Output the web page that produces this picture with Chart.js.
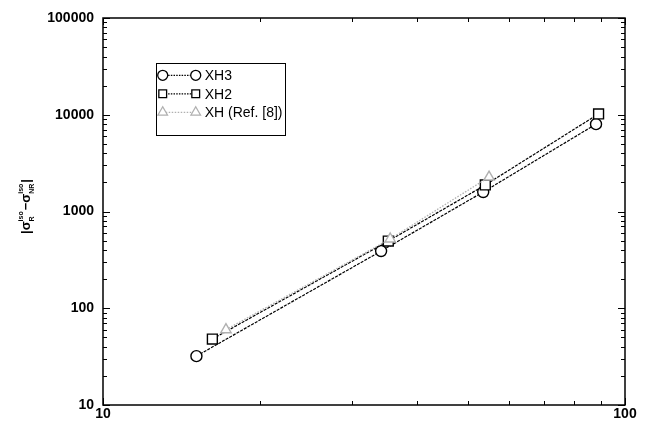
<!DOCTYPE html>
<html>
<head>
<meta charset="utf-8">
<script src="https://cdn.jsdelivr.net/npm/chart.js@4.4.1/dist/chart.umd.min.js"></script>
<style>
html,body{margin:0;padding:0;background:#fff;}
#wrap{position:relative;width:651px;height:427px;}
canvas{display:block;}
</style>
</head>
<body>
<div id="wrap"><canvas id="c" width="651" height="427"></canvas></div>
<script>
// ---- data ----
const xh3X = [15.1, 34.1, 53.5, 88.0];
const xh3Y = [32, 390, 1590, 8000];
const xh2X = [16.2, 35.2, 54.0, 89.0];
const xh2Y = [48, 495, 1880, 10200];
const xhX = [17.2, 35.5, 54.9];
const xhY = [60, 520, 2270];
const seriesNames = ['XH3', 'XH2', 'XH (Ref. [8])'];
const xTickLabels = [10, 100];
const yTickLabels = [10, 100, 1000, 10000, 100000];

const toPts = (xs, ys) => xs.map((x, i) => ({x: x, y: ys[i]}));
const FONT = 'Liberation Sans, Arial, Helvetica, sans-serif';

const seriesStyles = [
  {pointStyle: 'circle', radius: 5.5, color: '#000', dash: [3, 1.2], width: 1.2},
  {pointStyle: 'rect', radius: 7, color: '#000', dash: [3, 1.2], width: 1.2},
  {pointStyle: 'triangle', radius: 6, color: '#b0b0b0', dash: [1.5, 1.5], width: 1.3}
];
const seriesData = [toPts(xh3X, xh3Y), toPts(xh2X, xh2Y), toPts(xhX, xhY)];

const datasets = seriesNames.map((n, i) => ({
  label: n,
  data: seriesData[i],
  borderColor: seriesStyles[i].color,
  backgroundColor: '#fff',
  borderWidth: seriesStyles[i].width,
  borderDash: seriesStyles[i].dash,
  pointStyle: seriesStyles[i].pointStyle,
  pointRadius: seriesStyles[i].radius,
  pointBorderWidth: 1.4,
  pointBorderColor: seriesStyles[i].color,
  pointBackgroundColor: 'rgba(255,255,255,1)',
  tension: 0,
  order: 3 - i
}));

function decadeMinors(min, max) {
  const out = [];
  for (let d = min; d < max; d *= 10) {
    for (let k = 1; k < 10; k++) out.push({v: d * k, major: k === 1});
  }
  out.push({v: max, major: true});
  return out;
}

const framePlugin = {
  id: 'frame',
  afterDraw(chart) {
    const ctx = chart.ctx, a = chart.chartArea;
    const xs = chart.scales.x, ys = chart.scales.y;
    ctx.save();
    ctx.strokeStyle = '#000';
    ctx.lineWidth = 1.5;
    ctx.strokeRect(a.left, a.top, a.right - a.left, a.bottom - a.top);
    ctx.lineWidth = 1;
    decadeMinors(10, 100).forEach(t => {
      const p = Math.round(xs.getPixelForValue(t.v)) + 0.5;
      const L = t.major ? 7 : 4;
      ctx.beginPath();
      ctx.moveTo(p, a.bottom); ctx.lineTo(p, a.bottom - L);
      ctx.moveTo(p, a.top); ctx.lineTo(p, a.top + L);
      ctx.stroke();
    });
    decadeMinors(10, 100000).forEach(t => {
      const p = Math.round(ys.getPixelForValue(t.v)) + 0.5;
      const L = t.major ? 7 : 4;
      ctx.beginPath();
      ctx.moveTo(a.left, p); ctx.lineTo(a.left + L, p);
      ctx.moveTo(a.right, p); ctx.lineTo(a.right - L, p);
      ctx.stroke();
    });

    // legend
    const bx = a.left + 0.101 * (a.right - a.left);
    const by = a.top + 0.117 * (a.bottom - a.top);
    const bw = 129, bh = 72;
    ctx.fillStyle = '#fff';
    ctx.fillRect(bx, by, bw, bh);
    ctx.lineWidth = 1;
    ctx.strokeStyle = '#000';
    ctx.strokeRect(Math.round(bx) + 0.5, Math.round(by) + 0.5, bw, bh);
    seriesNames.forEach((n, i) => {
      const s = seriesStyles[i];
      const yy = by + 12 + i * 18.5;
      const x1 = bx + 7, x2 = bx + 40;
      ctx.save();
      ctx.strokeStyle = s.color;
      ctx.lineWidth = s.width;
      ctx.setLineDash(i === 2 ? [1.5, 1.5] : [1.5, 1.2]);
      ctx.beginPath(); ctx.moveTo(x1, yy); ctx.lineTo(x2, yy); ctx.stroke();
      ctx.restore();
      ctx.save();
      ctx.strokeStyle = s.color; ctx.fillStyle = '#fff'; ctx.lineWidth = 1.3;
      const r = i === 0 ? 5 : 5.5;
      Chart.helpers.drawPoint(ctx, {pointStyle: s.pointStyle, radius: r, borderWidth: 1.3}, x1, yy);
      Chart.helpers.drawPoint(ctx, {pointStyle: s.pointStyle, radius: r, borderWidth: 1.3}, x2, yy);
      ctx.restore();
      ctx.fillStyle = '#000';
      ctx.font = '14px ' + FONT;
      ctx.textBaseline = 'middle';
      ctx.textAlign = 'left';
      ctx.fillText(n, x2 + 9, yy + 1);
    });

    // y-axis title |σ^iso_R − σ^iso_NR|
    ctx.save();
    ctx.translate(25, (a.top + a.bottom) / 2 - 5);
    ctx.rotate(-Math.PI / 2);
    ctx.fillStyle = '#000';
    ctx.textBaseline = 'alphabetic';
    ctx.textAlign = 'left';
    const big = 'bold 13px ' + FONT, small = 'bold 7px ' + FONT;
    const parts = [
      ['|σ', big, 0], ['iso', small, -7, 'R'], ['−', big, 0], ['σ', big, 0], ['iso', small, -7, 'NR'], ['|', big, 0]
    ];
    let w = 0;
    parts.forEach(p => {
      ctx.font = p[1];
      let pw = ctx.measureText(p[0]).width;
      if (p[3]) { pw = Math.max(pw, ctx.measureText(p[3]).width) + 1; }
      w += pw;
    });
    let cx = -w / 2;
    parts.forEach(p => {
      ctx.font = p[1];
      ctx.fillText(p[0], cx, p[2] + 5);
      let pw = ctx.measureText(p[0]).width;
      if (p[3]) {
        ctx.fillText(p[3], cx, 9);
        pw = Math.max(pw, ctx.measureText(p[3]).width) + 1;
      }
      cx += pw;
    });
    ctx.restore();
    ctx.restore();
  }
};

new Chart(document.getElementById('c'), {
  type: 'line',
  data: {datasets: datasets},
  options: {
    responsive: false,
    animation: false,
    devicePixelRatio: 1,
    layout: {padding: {top: 18, right: 26, left: 0, bottom: 0}},
    plugins: {legend: {display: false}, tooltip: {enabled: false}},
    scales: {
      x: {
        type: 'logarithmic',
        min: 10, max: 100,
        afterBuildTicks: s => { s.ticks = xTickLabels.map(v => ({value: v})); },
        afterFit: s => { s.height = 22; },
        ticks: {
          color: '#000', padding: 1, maxRotation: 0,
          font: {family: FONT, size: 14, weight: 'bold'},
          callback: v => String(v)
        },
        grid: {display: false, drawTicks: false},
        border: {display: false}
      },
      y: {
        type: 'logarithmic',
        min: 10, max: 100000,
        afterBuildTicks: s => { s.ticks = yTickLabels.map(v => ({value: v})); },
        afterFit: s => { s.width = 103; },
        ticks: {
          color: '#000', padding: 9,
          font: {family: FONT, size: 14, weight: 'bold'},
          callback: v => String(v)
        },
        grid: {display: false, drawTicks: false},
        border: {display: false}
      }
    }
  },
  plugins: [framePlugin]
});
</script>
</body>
</html>
